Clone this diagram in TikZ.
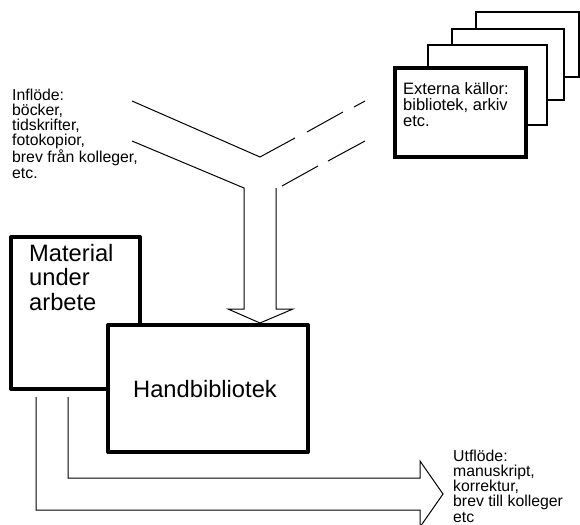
\documentclass[tikz,border=0pt]{standalone}
\usepackage{fontspec}
\setmainfont{Liberation Sans}
\begin{document}
\begin{tikzpicture}[x=1pt,y=-1pt,
  thinline/.style={line width=1pt, line cap=butt, line join=miter},
  heavybox/.style={draw, line width=4pt, fill=white, line join=round, inner sep=0pt, outer sep=0pt, anchor=north west},
  frontbox/.style={draw, line width=4.5pt, fill=white, inner sep=0pt, outer sep=0pt, anchor=north west},
  pagebox/.style={draw, line width=1.3pt, fill=white, inner sep=0pt, outer sep=0pt, anchor=north west},
  smalltext/.style={font=\fontsize{15.8}{15.2}\selectfont, align=left, inner sep=0pt, anchor=base west},
  smalltextb/.style={font=\fontsize{15.8}{15.25}\selectfont, align=left, inner sep=0pt, anchor=base west},
  smalltextc/.style={font=\fontsize{16.5}{16}\selectfont, align=left, inner sep=0pt, anchor=base west},
  bigtext/.style={font=\fontsize{23.7}{24.5}\selectfont, align=left, inner sep=0pt, anchor=base west}]
\clip (0,0) rectangle (580,524);
% stacked external sources
\node[pagebox, minimum width=103pt, minimum height=65pt] (page3) at (476,12) {};
\node[pagebox, minimum width=112pt, minimum height=71pt] (page2) at (452,29) {};
\node[pagebox, minimum width=119pt, minimum height=80pt] (page1) at (428,45) {};
\node[frontbox, minimum width=131pt, minimum height=89pt] (externa) at (395,68) {};
% (base anchor of a multi-line node is the baseline of its last line)
\node[smalltextc] (externatext) at (403,126) {Externa källor:\\bibliotek, arkiv\\etc.};
% inflow text
\node[smalltext] (inflow) at (12,178) {Inflöde:\\böcker,\\tidskrifter,\\fotokopior,\\brev från kolleger,\\etc.};
% Y-shaped inflow arrow
\coordinate (ytip) at (260,323);
\draw[thinline] (132,101) -- (260,157) -- (295,138);
\draw[thinline] (307,132) -- (343,112);
\draw[thinline] (354,107) -- (365,101);
\draw[thinline] (132,141) -- (244,188) -- (244,309) -- (228,309) -- (ytip) -- (293,309) -- (276,309) -- (276,188);
\draw[thinline] (282,186) -- (318,166);
\draw[thinline] (328,161) -- (365,141);
% boxes
\node[heavybox, minimum width=129pt, minimum height=152pt] (material) at (11,237) {};
\node[bigtext] (materialtext) at (29,310) {Material\\under\\arbete};
\node[heavybox, minimum width=200pt, minimum height=127pt] (handbib) at (108,325) {};
\node[bigtext] (handbibtext) at (133,397) {Handbibliotek};
% outflow arrow
\coordinate (otip) at (443,494);
\draw[thinline] (68,397) -- (68,478) -- (420,478) -- (420,461) -- (otip) -- (420,527) -- (420,510) -- (36,510) -- (36,397);
\node[smalltextb] (outflow) at (453,522) {Utflöde:\\manuskript,\\korrektur,\\brev till kolleger\\etc};
\end{tikzpicture}
\end{document}
